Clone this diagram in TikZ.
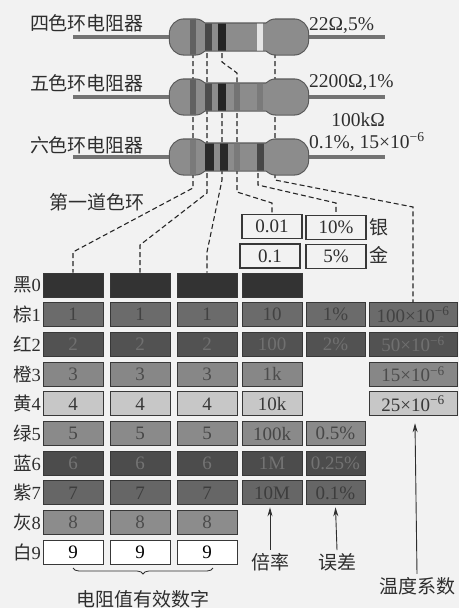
\documentclass[tikz,border=0pt]{standalone}
\usepackage{fontspec}
\setmainfont{Liberation Serif}
\newfontfamily\cjk{Noto Sans CJK SC}
\usetikzlibrary{arrows.meta,decorations.pathreplacing,calc}

% paper, resistor and ink tones
\colorlet{paper}{black!5}
\colorlet{ink}{black!82}
\colorlet{bodygray}{black!45}
\colorlet{bodyedge}{black!65}
\colorlet{leadgray}{black!55}

% fill and text tone of each colour row 0..9
\colorlet{rowfill0}{black!80}\colorlet{rowtext0}{black!80}
\colorlet{rowfill1}{black!58}\colorlet{rowtext1}{black!74}
\colorlet{rowfill2}{black!68}\colorlet{rowtext2}{black!56}
\colorlet{rowfill3}{black!47}\colorlet{rowtext3}{black!70}
\colorlet{rowfill4}{black!22}\colorlet{rowtext4}{black!78}
\colorlet{rowfill5}{black!46}\colorlet{rowtext5}{black!72}
\colorlet{rowfill6}{black!70}\colorlet{rowtext6}{black!55}
\colorlet{rowfill7}{black!60}\colorlet{rowtext7}{black!76}
\colorlet{rowfill8}{black!45}\colorlet{rowtext8}{black!70}
\colorlet{rowfill9}{white}\colorlet{rowtext9}{black}

\tikzset{
  cjklab/.style={inner sep=0pt, text=ink, font=\cjk\fontsize{19}{19}\selectfont},
  numlab/.style={inner sep=0pt, text=ink, font=\fontsize{19.5}{20}\selectfont},
  rowlab/.style={inner sep=0pt, anchor=east, text=ink, font=\fontsize{18.5}{18.5}\selectfont},
  cell/.style={draw=black!78, line width=0.9pt, minimum width=60pt, minimum height=24pt,
    inner sep=0pt, font=\fontsize{19}{19}\selectfont},
  widecell/.style={cell, minimum width=88pt},
  plainbox/.style={draw=black!78, line width=1.5pt, fill=paper, minimum width=60pt,
    minimum height=24pt, inner sep=0pt, text=ink, font=\fontsize{19}{19}\selectfont},
  bandline/.style={draw=black!85, line width=1.1pt, dash pattern=on 5pt off 3pt},
  pointer/.style={draw=ink, line width=0.9pt, -{Stealth[length=9pt,width=5pt]}},
}

% the three resistor outlines (caps and middle section) around axis height #1
\newcommand\resistoroutline[1]{
  (170,#1-17.5) [rounded corners=14pt] rectangle (209,#1+17.5)
  (203,#1-13.5) [sharp corners] rectangle (268,#1+13.5)
  (262,#1-17.5) [rounded corners=14pt] rectangle (308,#1+17.5)
}

% a resistor: lead, body and its colour bands (x/width/tone)
\newcommand\resistorbody[2]{
  \draw[line width=4pt, leadgray] (73,#1) -- (385,#1);
  \draw[bodyedge, line width=2.2pt] \resistoroutline{#1};
  \fill[bodygray] \resistoroutline{#1};
  \begin{scope}
    \clip \resistoroutline{#1};
    \foreach \bx/\bw/\bc in {#2}
      \fill[\bc] (\bx-\bw/2,#1-20) rectangle (\bx+\bw/2,#1+20);
  \end{scope}
}

\begin{document}
\begin{tikzpicture}[x=1pt, y=-1pt]
\useasboundingbox (0,0) rectangle (459,608);
\fill[paper] (0,0) rectangle (459,608);

% band positions on the three resistors
\coordinate (r1b1) at (193,37);
\coordinate (r1b2) at (207,37);
\coordinate (r1b3) at (222,37);
\coordinate (r1b6) at (275,37);
\coordinate (r2b3) at (222,97);
\coordinate (r2b4) at (237,97);
\coordinate (r3b5) at (258,157);

% ---------- colour code table ----------
\foreach \i/\lab in {0/黑,1/棕,2/红,3/橙,4/黄,5/绿,6/蓝,7/紫,8/灰,9/白}{
  \node[rowlab] (lab-\i) at (41,285+29.7*\i) {{\cjk\lab}\i};
  \foreach \j/\cx in {1/73,2/140,3/207}
    \node[cell, fill=rowfill\i, text=rowtext\i] (b-\i-\j) at (\cx,285+29.7*\i)
      {\ifnum\i>0 \i\fi};
}
\foreach \i/\txt in {0/{},1/10,2/100,3/1k,4/10k,5/100k,6/1M,7/10M}
  \node[cell, fill=rowfill\i, text=rowtext\i] (b-\i-4) at (272,285+29.7*\i) {\txt};
\foreach \i/\txt in {1/1\%,2/2\%,5/0.5\%,6/0.25\%,7/0.1\%}
  \node[cell, minimum width=59pt, fill=rowfill\i, text=rowtext\i] (b-\i-5)
    at (335.5,285+29.7*\i) {\txt};
\foreach \i/\txt in {1/100,2/50,3/15,4/25}
  \node[widecell, fill=rowfill\i, text=rowtext\i] (b-\i-6) at (413,285+29.7*\i)
    {\txt×10\textsuperscript{−6}};

% silver and gold
\node[plainbox] (m001) at (272,226.5) {0.01};
\node[plainbox] (t10) at (336,227.5) {10\%};
\node[plainbox] (m01) at (270,256) {0.1};
\node[plainbox] (t5) at (336,256.5) {5\%};
\node[cjklab] (silver) at (379,227) {银};
\node[cjklab] (gold) at (379,255) {金};

% ---------- dashed leaders from the bands ----------
\draw[bandline] (r1b1) -- (193,188) -- (73,252) -- (b-0-1.north);
\draw[bandline] (r1b2) -- (207,193) -- (140,245) -- (b-0-2.north);
\draw[bandline] (r1b3) -- (222,62) -- (237,73) -- (r2b4);
\draw[bandline] (r2b3) -- (222,180) -- (207,252) -- (b-0-3.north);
\draw[bandline] (r2b4) -- (237,192) -- (272,203) -- (m001.north);
\draw[bandline] (r3b5) -- (258,185) -- (336,203) -- (t10.north);
\draw[bandline] (r1b6) -- (275,180) -- (413,207) -- (b-1-6.north);

% ---------- resistors ----------
\resistorbody{37}{193/6/black!62, 208/7/black!72, 222/8/black!86, 260/6/black!10}
\resistorbody{97}{193/6/black!62, 208/7/black!70, 222/8/black!86, 237/6/black!55, 260/6/black!52}
\resistorbody{157}{193/6/black!52, 209/9/black!84, 224/8/black!84, 237/6/black!52, 260/7/black!72}

\node[cjklab] (four) at (87,23) {四色环电阻器};
\node[cjklab] (five) at (87,83) {五色环电阻器};
\node[cjklab] (six) at (87,145) {六色环电阻器};
\node[numlab, anchor=west] (v4) at (309,26) {22Ω,5\%};
\node[numlab, anchor=west] (v5) at (309,83) {2200Ω,1\%};
\node[numlab] (v6a) at (358,120) {100kΩ};
\node[numlab, anchor=west] (v6b) at (309,142) {0.1\%, 15×10\textsuperscript{−6}};
\node[cjklab] (first) at (97,202) {第一道色环};

% ---------- captions ----------
\node[cjklab] (mult) at (270,562) {倍率};
\node[cjklab] (tol) at (337,562) {误差};
\node[cjklab] (tc) at (417,586) {温度系数};
\node[cjklab] (digits) at (143,599) {电阻值有效数字};
\draw[pointer] (mult.north) ++(0,-3) -- ($(b-7-4.south)+(-2,2)$);
\draw[pointer] (tol.north) ++(0,-3) -- ($(b-7-5.south)+(0,2)$);
\draw[pointer] (tc.north) ++(0,-3) -- ($(b-4-6.south)+(2,7)$);
\draw[ink, line width=0.8pt, decorate, decoration={brace, mirror, amplitude=6pt}]
  (73,568) -- (213,568);
\end{tikzpicture}
\end{document}
